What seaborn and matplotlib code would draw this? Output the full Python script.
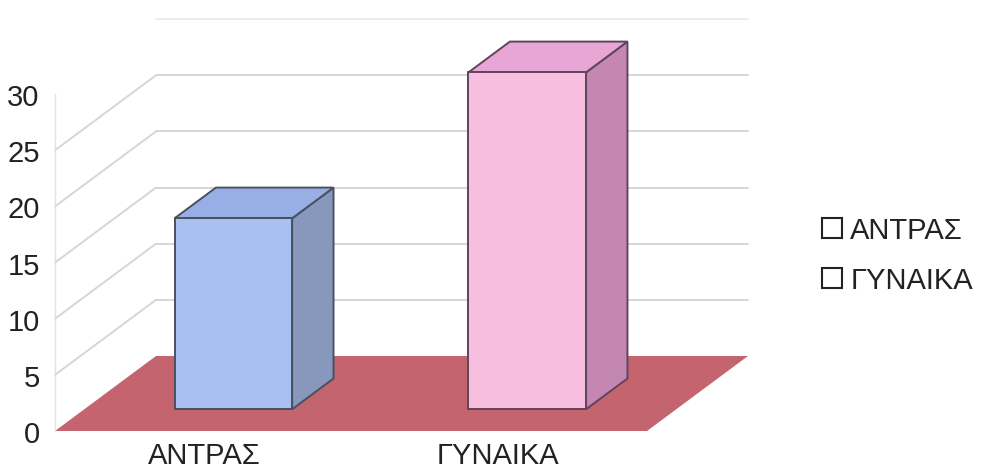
import matplotlib
matplotlib.use("Agg")
import matplotlib.pyplot as plt
import seaborn as sns
from matplotlib.patches import Polygon, Patch
from matplotlib.transforms import ScaledTranslation

# ---- data ----
categories = ["ΑΝΤΡΑΣ", "ΓΥΝΑΙΚΑ"]
values = [17, 30]
yticks = [0, 5, 10, 15, 20, 25, 30]

front_colors = ["#a9c1f2", "#f8bee0"]
top_colors = ["#98afe6", "#e8a6d6"]
side_colors = ["#8898bc", "#c487b4"]
edge_colors = ["#4a5060", "#604458"]
floor_color = "#c3646f"
grid_color = "#d6d6d6"

sns.set_theme(style="white")
plt.rcParams["font.family"] = ["Liberation Sans", "DejaVu Sans"]

W, H, DPI = 991, 477, 100
fig = plt.figure(figsize=(W / DPI, H / DPI), dpi=DPI)
fig.patch.set_facecolor("white")

# axes = front plane of the 3D box
px_per_unit = 11.23
ymax = 38
left_px, right_px, bottom_px = 55, 647, 432
ax = fig.add_axes([left_px / W, (H - bottom_px) / H,
                   (right_px - left_px) / W, ymax * px_per_unit / H])
ax.set_facecolor("none")

sns.barplot(x=categories, y=values, hue=categories, palette=front_colors,
            saturation=1, width=0.4, legend=False, ax=ax, zorder=4)

x0, x1 = -0.507, 1.507
ax.set_xlim(x0, x1)
ax.set_ylim(0, ymax)
for s in ["top", "right", "bottom"]:
    ax.spines[s].set_visible(False)
ax.spines["left"].set_bounds(0, 30)
ax.spines["left"].set_color("#e2e2e2")
ax.spines["left"].set_linewidth(1.0)
ax.set_yticks(yticks)
ax.set_yticklabels([str(t) for t in yticks])
ax.tick_params(axis="y", length=0, pad=11, labelsize=21, labelcolor="#222222")
ax.tick_params(axis="x", length=0, pad=7, labelsize=21, labelcolor="#222222")
ax.set_xlabel("")
ax.set_ylabel("")
ax.grid(False)

# depth vector in pixels (display, y up)
DX, DY = 101, 75
f_front, f_back = 0.29, 0.70

fig.canvas.draw()
toD = ax.transData
toData = ax.transData.inverted()


def shifted(pts, f):
    out = []
    for (x, y) in pts:
        dx, dy = toD.transform((x, y))
        out.append(toData.transform((dx + f * DX, dy + f * DY)))
    return out


# floor
floor = [(x0, 0), (x1, 0)] + shifted([(x1, 0), (x0, 0)], 1.0)
ax.add_patch(Polygon(floor, closed=True, facecolor=floor_color,
                     edgecolor="none", zorder=2, clip_on=False))

# walls gridlines
for v in yticks[1:]:
    a, b = shifted([(x0, v), (x1, v)], 1.0)
    c = grid_color if v < 30 else "#ececec"
    ax.plot([a[0], b[0]], [a[1], b[1]], color=c, lw=1.4, zorder=1,
            clip_on=False)
    if v < 30:
        ax.plot([x0, a[0]], [v, a[1]], color=grid_color, lw=1.4, zorder=1,
                clip_on=False)

# bars: front faces from seaborn, shifted into depth; top/side faces
off = ScaledTranslation(f_front * DX / DPI, f_front * DY / DPI,
                        fig.dpi_scale_trans)
for i, p in enumerate(ax.patches[:len(categories)]):
    bx, bw, bh = p.get_x(), p.get_width(), p.get_height()
    p.set_transform(ax.transData + off)
    p.set_edgecolor(edge_colors[i])
    p.set_linewidth(1.4)
    p.set_zorder(5)
    fl, fr = (bx, bh), (bx + bw, bh)
    br0 = (bx + bw, 0)
    top = shifted([fl, fr], f_front) + shifted([fr, fl], f_back)
    side = shifted([br0, fr], f_front) + shifted([fr, br0], f_back)
    ax.add_patch(Polygon(side, closed=True, facecolor=side_colors[i],
                         edgecolor=edge_colors[i], lw=1.4, zorder=4,
                         clip_on=False))
    ax.add_patch(Polygon(top, closed=True, facecolor=top_colors[i],
                         edgecolor=edge_colors[i], lw=1.4, zorder=4,
                         clip_on=False))

# legend
handles = [Patch(facecolor="white", edgecolor="#222222", lw=1.5)
           for _ in categories]
fig.legend(handles, categories, loc="center left",
           bbox_to_anchor=(796 / W, (H - 256) / H), frameon=False,
           fontsize=21, handlelength=0.66, handleheight=0.66,
           handletextpad=0.3, labelspacing=0.75, labelcolor="#222222")

fig.savefig("out.png", dpi=DPI, facecolor="white")
